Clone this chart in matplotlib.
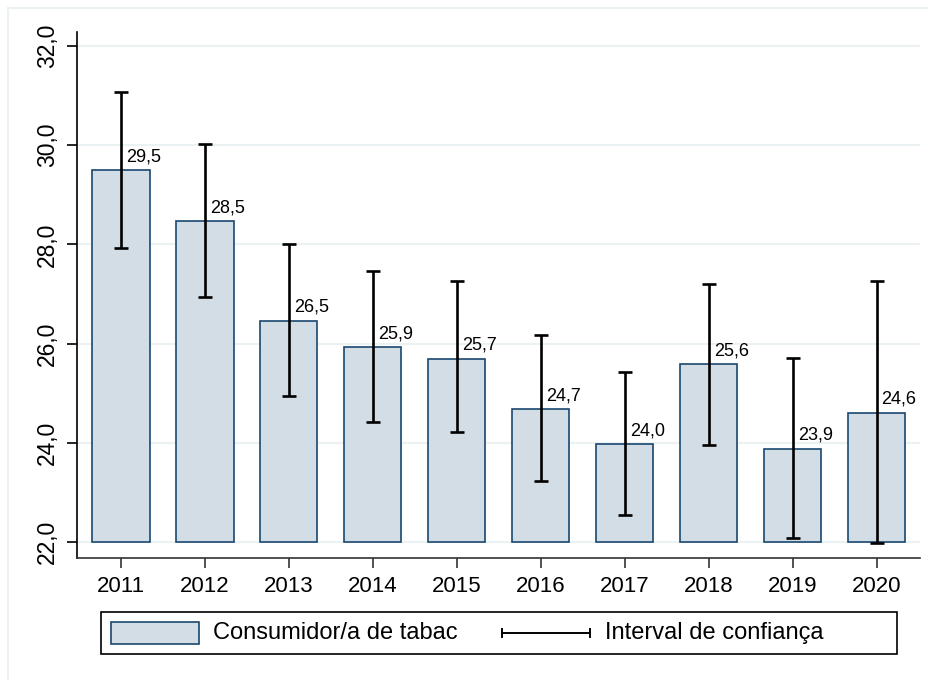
import matplotlib
matplotlib.use("Agg")
import matplotlib.pyplot as plt
from matplotlib.patches import Rectangle
from matplotlib.lines import Line2D

plt.rcParams["font.family"] = ["Liberation Sans", "DejaVu Sans"]

# -----------------------------
# Data
# -----------------------------
years = ["2011", "2012", "2013", "2014", "2015", "2016", "2017", "2018", "2019", "2020"]
values = [29.49, 28.47, 26.46, 25.93, 25.70, 24.68, 23.98, 25.58, 23.88, 24.61]
ci_low = [27.93, 26.93, 24.94, 24.42, 24.22, 23.23, 22.54, 23.96, 22.09, 21.98]
ci_high = [31.07, 30.03, 28.00, 27.46, 27.26, 26.17, 25.43, 27.20, 25.71, 27.26]
yticks = [22, 24, 26, 28, 30, 32]

BASE = 22
FACE = "#d3dde6"
EDGE = "#1a476f"
GRID = "#eaf2f3"

# -----------------------------
# Plot
# -----------------------------
fig = plt.figure(figsize=(9.29, 6.8), dpi=100)
ax = fig.add_axes([77 / 929, 1 - 558 / 680, (920 - 77) / 929, (558 - 32) / 680])

x = list(range(1, len(years) + 1))
heights = [v - BASE for v in values]
ax.bar(x, heights, bottom=BASE, width=0.68, color=FACE, edgecolor=EDGE,
       linewidth=1.2, zorder=2)

err_lo = [v - lo for v, lo in zip(values, ci_low)]
err_hi = [hi - v for v, hi in zip(values, ci_high)]
ax.errorbar(x, values, yerr=[err_lo, err_hi], fmt="none", ecolor="black",
            elinewidth=1.9, capsize=4.8, capthick=1.9, zorder=3)

for xi, v in zip(x, values):
    ax.annotate(f"{v:.1f}".replace(".", ","), (xi, v), xytext=(3.5, 3.5),
                textcoords="offset points", fontsize=13, ha="left", va="bottom",
                zorder=4)

ax.set_xlim(0.476, 10.515)
ax.set_ylim(21.68, 32.28)
ax.set_xticks(x)
ax.set_xticklabels(years, fontsize=16)
ax.set_yticks(yticks)
ax.set_yticklabels([f"{t:.1f}".replace(".", ",") for t in yticks], fontsize=16.5,
                   rotation=90, va="center")
ax.tick_params(axis="both", length=7, width=1.2, pad=6)
ax.tick_params(axis="x", colors="#333333", labelcolor="black")

for t in yticks:
    ax.axhline(t, color=GRID, linewidth=1.5, zorder=1)

for s in ["top", "right"]:
    ax.spines[s].set_visible(False)
ax.spines["left"].set_linewidth(1.2)
ax.spines["bottom"].set_linewidth(1.2)
ax.spines["bottom"].set_color("#333333")

# outer graph region frame
fig.add_artist(Line2D([8 / 929, 8 / 929], [1 - 8 / 680, 0], color=GRID, linewidth=1.5))
fig.add_artist(Line2D([8 / 929, 1], [1 - 8 / 680, 1 - 8 / 680], color=GRID, linewidth=1.5))

# -----------------------------
# Legend (drawn in figure pixels)
# -----------------------------
W, H = 929, 680


def fx(px):
    return px / W


def fy(py):
    return 1 - py / H


fig.add_artist(Rectangle((fx(101), fy(654)), fx(897) - fx(101), fy(612) - fy(654),
                         facecolor="white", edgecolor="black", linewidth=1.2,
                         transform=fig.transFigure))
fig.add_artist(Rectangle((fx(111), fy(644)), fx(199) - fx(111), fy(622) - fy(644),
                         facecolor=FACE, edgecolor=EDGE, linewidth=1.2,
                         transform=fig.transFigure))
fig.text(fx(213), fy(633), "Consumidor/a de tabac", fontsize=17, va="center", ha="left")
fig.add_artist(Line2D([fx(502), fx(590)], [fy(633), fy(633)], color="black", linewidth=1.4))
for px in (502, 590):
    fig.add_artist(Line2D([fx(px), fx(px)], [fy(629), fy(637)], color="black", linewidth=1.4))
fig.text(fx(605), fy(633), "Interval de confiança", fontsize=17, va="center", ha="left")

plt.savefig("out.png", dpi=100)
